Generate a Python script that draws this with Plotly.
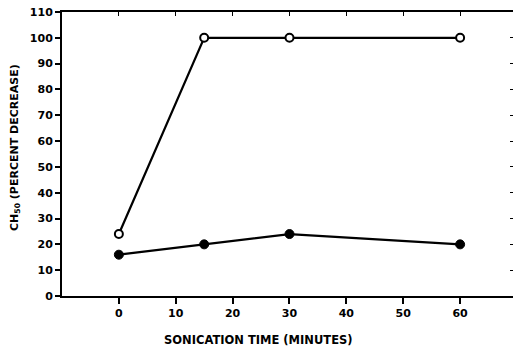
import plotly.graph_objects as go

times = [0, 15, 30, 60]
open_series = [24, 100, 100, 100]
filled_series = [16, 20, 24, 20]
x_ticks = [0, 10, 20, 30, 40, 50, 60]
y_ticks = [0, 10, 20, 30, 40, 50, 60, 70, 80, 90, 100, 110]

FONT = "DejaVu Sans"

fig = go.Figure()
fig.add_trace(go.Scatter(
    x=times, y=filled_series, mode="lines+markers",
    line=dict(color="black", width=2.2),
    marker=dict(symbol="circle", size=9, color="black", line=dict(color="black", width=1)),
    showlegend=False, hoverinfo="skip"))
fig.add_trace(go.Scatter(
    x=times, y=open_series, mode="lines+markers",
    line=dict(color="black", width=2.2),
    marker=dict(symbol="circle", size=8, color="white", line=dict(color="black", width=2)),
    showlegend=False, hoverinfo="skip"))
# phantom trace for mirrored inner ticks
fig.add_trace(go.Scatter(x=[None], y=[None], xaxis="x2", yaxis="y2", showlegend=False))

fig.update_layout(
    width=513, height=347,
    margin=dict(l=62, r=0, t=12, b=51),
    paper_bgcolor="white", plot_bgcolor="white",
    font=dict(family=FONT, color="black"),
    xaxis=dict(range=[-10, 69.3], tickvals=x_ticks, ticks="outside", ticklen=6,
               tickwidth=1.5, tickcolor="black", showline=True, linecolor="black",
               linewidth=2, showgrid=False, zeroline=False,
               tickfont=dict(family=FONT, size=11, color="black", weight="bold")),
    yaxis=dict(range=[0, 110], tickvals=y_ticks, ticks="outside", ticklen=5,
               tickwidth=1.5, tickcolor="black", showline=True, linecolor="black",
               linewidth=2, showgrid=False, zeroline=False,
               tickfont=dict(family=FONT, size=11, color="black", weight="bold")),
    xaxis2=dict(range=[-10, 69.3], tickvals=x_ticks, overlaying="x", side="top",
                ticks="inside", ticklen=4, tickwidth=1, tickcolor="black",
                showline=True, linecolor="black", linewidth=1.5,
                showticklabels=False, showgrid=False, zeroline=False),
    yaxis2=dict(range=[0, 110], tickvals=y_ticks, overlaying="y", side="right",
                ticks="inside", ticklen=3, tickwidth=1, tickcolor="black",
                showline=False, showticklabels=False, showgrid=False, zeroline=False),
    annotations=[
        dict(text="<b>SONICATION TIME (MINUTES)</b>", xref="paper", yref="paper",
             x=(258 - 62) / 451, y=-44 / 284, xanchor="center", yanchor="middle",
             showarrow=False, font=dict(family=FONT, size=11.5, color="black")),
        dict(text="<b>CH<sub>50</sub> (PERCENT DECREASE)</b>",
             xref="paper", yref="paper",
             x=-47 / 451, y=(296 - 148) / 284, xanchor="center", yanchor="middle",
             textangle=-90, showarrow=False,
             font=dict(family=FONT, size=11, color="black")),
    ],
)

fig.write_html("out.html", config={"displayModeBar": False},
               post_script="document.body.style.margin='0';document.body.style.padding='0';")
